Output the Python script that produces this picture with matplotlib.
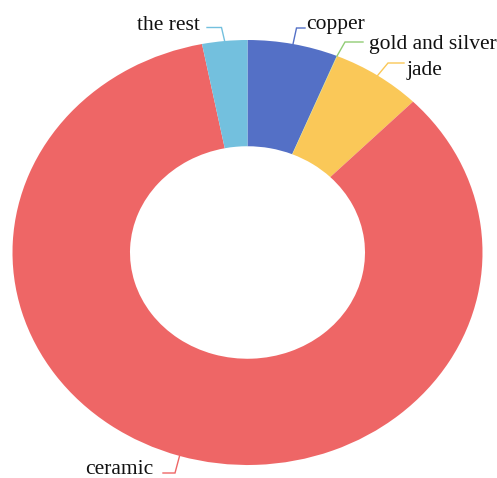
import matplotlib
matplotlib.use("Agg")
import matplotlib.pyplot as plt
import numpy as np

labels = ['copper', 'gold and silver', 'jade', 'ceramic', 'the rest']
values = [6.2, 0.03, 6.2, 84.4, 3.1]
colors = ['#5470c6', '#91cc75', '#fac858', '#ee6666', '#73c0de']

W, H = 497, 478
cx_px, cy_px = 247.5, 252.5
rx, ry = 235.0, 212.5
k = rx / ry

fig = plt.figure(figsize=(W / 100, H / 100), dpi=100)
ax = fig.add_axes([0, 0, 1, 1])

def px(x, y):
    return x / k, H - y

center = px(cx_px, cy_px)
wedges, _ = ax.pie(values, colors=colors, startangle=90, counterclock=False,
                   center=center, radius=ry,
                   wedgeprops=dict(width=ry * 0.5, linewidth=0, antialiased=True))
ax.set_aspect('auto')
ax.set_xlim(0, W / k)
ax.set_ylim(0, H)
ax.axis('off')

# label layout in pixels: elbow, line end, text anchor x, text baseline y, alignment
layout = {
    'copper': ((296.5, 28), (305, 28), 306, 28.5, 'left'),
    'gold and silver': ((345, 42), (363, 42), 369, 48.5, 'left'),
    'jade': ((388, 63), (404, 63), 407, 75, 'left'),
    'ceramic': ((175, 473), (163, 473), 153, 474, 'right'),
    'the rest': ((221.5, 27.5), (207, 27.5), 200, 30, 'right'),
}

for w, lab, col in zip(wedges, labels, colors):
    mid = np.deg2rad((w.theta1 + w.theta2) / 2)
    sx = cx_px + rx * np.cos(mid)
    sy = cy_px - ry * np.sin(mid)
    (ex, ey), (lx, ly), tx, ty, ha = layout[lab]
    pts = [px(sx, sy), px(ex, ey), px(lx, ly)]
    ax.plot([p[0] for p in pts], [p[1] for p in pts], color=col, lw=1.0,
            solid_joinstyle='miter')
    ax.text(*px(tx, ty), lab, ha=ha, va='baseline', fontsize=15.5,
            family='Liberation Serif', color='#111111')

fig.savefig('out.png', dpi=100)
